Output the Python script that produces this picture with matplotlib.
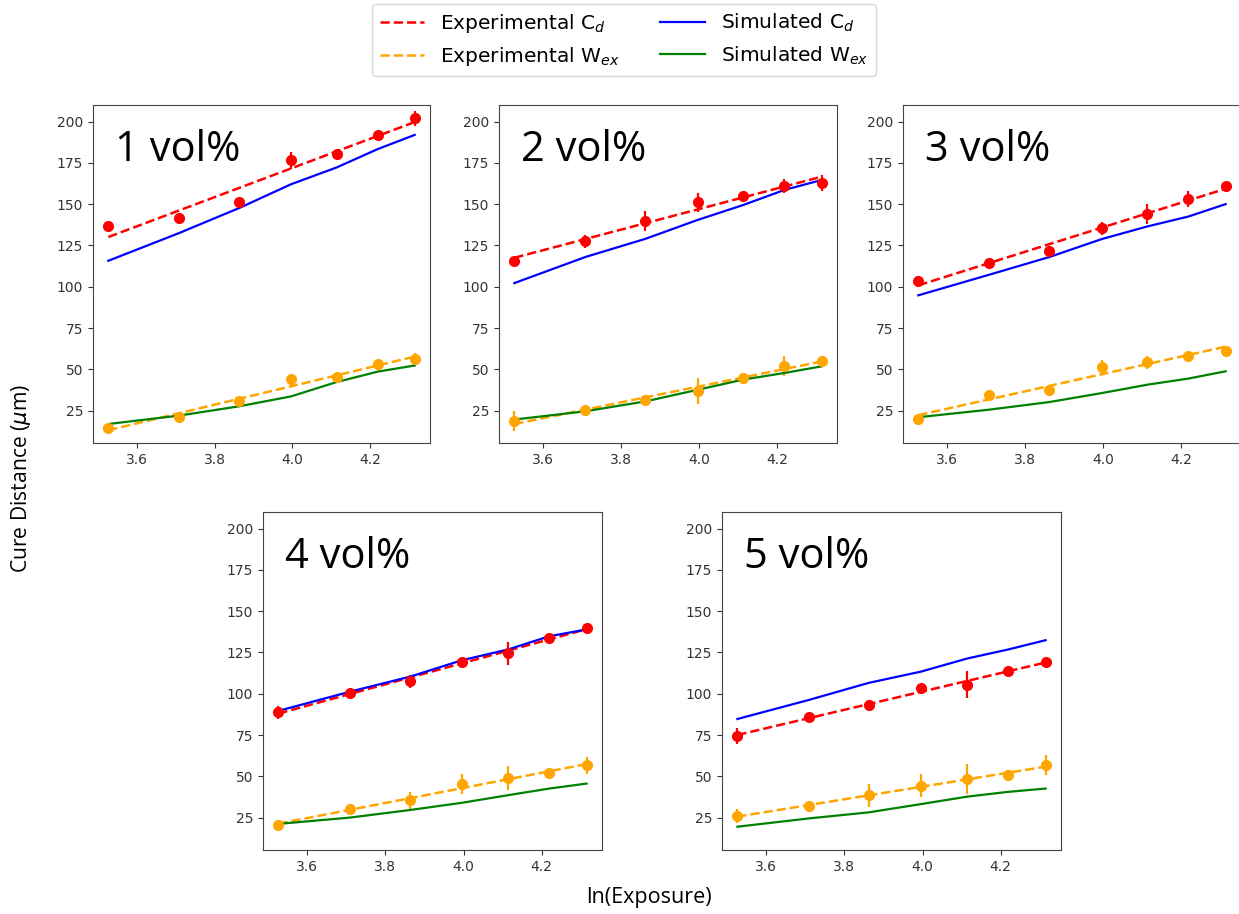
import numpy as np
import matplotlib
matplotlib.use("Agg")
import matplotlib.pyplot as plt

# Exposure levels (the x-axis shows their natural log)
exposure = [34.0, 40.8, 47.6, 54.4, 61.2, 68.0, 74.8]

panel_titles = ["1 vol%", "2 vol%", "3 vol%", "4 vol%", "5 vol%"]

# Experimental cure depth C_d (um) and its error bars
exp_cd = [
    [137.0, 141.5, 151.0, 176.5, 180.5, 192.0, 202.0],
    [115.8, 127.4, 139.9, 151.0, 155.2, 161.0, 162.7],
    [103.5, 114.5, 121.4, 135.3, 143.8, 153.0, 161.2],
    [88.8, 100.5, 107.6, 119.0, 124.4, 133.8, 140.0],
    [74.3, 86.1, 93.4, 103.2, 105.5, 113.6, 119.3],
]
exp_cd_err = [
    [2.0, 2.0, 2.0, 5.0, 2.0, 2.0, 4.5],
    [2.0, 4.0, 6.0, 6.0, 2.0, 4.0, 5.0],
    [3.0, 2.0, 3.0, 4.0, 6.0, 5.0, 2.0],
    [4.0, 2.0, 4.0, 3.0, 7.0, 3.0, 2.0],
    [5.0, 2.0, 3.0, 2.0, 8.0, 2.0, 2.0],
]

# Experimental excess width W_ex (um) and its error bars
exp_wex = [
    [14.3, 21.0, 30.6, 44.0, 45.3, 53.3, 56.3],
    [18.8, 25.3, 31.5, 37.0, 45.0, 52.2, 55.2],
    [19.8, 34.5, 37.2, 51.4, 54.3, 58.3, 61.2],
    [20.4, 30.5, 35.5, 45.3, 49.0, 52.1, 56.6],
    [26.0, 32.0, 38.5, 44.2, 48.3, 50.8, 56.8],
]
exp_wex_err = [
    [2.0, 3.0, 2.0, 2.0, 2.5, 2.5, 3.5],
    [6.0, 2.0, 2.0, 8.0, 2.0, 6.0, 2.0],
    [2.0, 3.0, 2.0, 4.0, 4.0, 2.0, 3.0],
    [3.0, 2.0, 5.0, 6.0, 7.0, 2.0, 5.0],
    [4.0, 2.0, 7.0, 7.0, 9.0, 2.0, 6.0],
]

# Simulated curves
sim_cd = [
    [115.7, 132.5, 147.6, 162.0, 172.2, 183.3, 191.9],
    [102.2, 118.0, 129.0, 140.4, 149.5, 158.6, 164.6],
    [94.8, 107.3, 118.0, 128.8, 136.5, 142.5, 150.0],
    [89.6, 101.2, 110.3, 120.3, 126.8, 134.8, 138.9],
    [84.7, 96.2, 106.6, 113.4, 121.3, 126.8, 132.4],
]
sim_wex = [
    [16.9, 22.0, 27.6, 33.6, 42.3, 48.6, 52.3],
    [19.6, 24.6, 30.6, 37.6, 43.8, 47.8, 51.8],
    [21.0, 25.6, 30.2, 35.6, 40.7, 44.4, 48.8],
    [21.2, 25.0, 29.6, 34.0, 38.6, 42.6, 45.6],
    [19.5, 24.5, 28.2, 33.2, 37.7, 40.6, 42.6],
]

W, H = 1239, 914
fig = plt.figure(figsize=(W / 100, H / 100), dpi=100)

# axes boxes in pixels: left, right, top, bottom
boxes = [
    (93, 430, 105, 443),
    (499, 837, 105, 443),
    (903, 1241, 105, 443),
    (263, 602, 512, 850),
    (722, 1061, 512, 850),
]

x = np.log(exposure)
handles = None
for i, (l, r, t, b) in enumerate(boxes):
    ax = fig.add_axes([l / W, 1 - b / H, (r - l) / W, (b - t) / H])

    cd = np.array(exp_cd[i])
    wx = np.array(exp_wex[i])
    cd_fit = np.polyval(np.polyfit(x, cd, 1), x)
    wx_fit = np.polyval(np.polyfit(x, wx, 1), x)

    h1, = ax.plot(x, cd_fit, "--", color="red", lw=1.8, label="Experimental C$_d$")
    ax.errorbar(x, cd, yerr=exp_cd_err[i], fmt="o", color="red", ms=7, elinewidth=1.6)
    h2, = ax.plot(x, wx_fit, "--", color="orange", lw=1.8, label="Experimental W$_{ex}$")
    ax.errorbar(x, wx, yerr=exp_wex_err[i], fmt="o", color="orange", ms=7, elinewidth=1.6)
    h3, = ax.plot(x, sim_cd[i], "-", color="blue", lw=1.6, label="Simulated C$_d$")
    h4, = ax.plot(x, sim_wex[i], "-", color="green", lw=1.6, label="Simulated W$_{ex}$")
    handles = [h1, h2, h3, h4]

    ax.set_ylim(5.4, 210)
    ax.set_yticks([25, 50, 75, 100, 125, 150, 175, 200])
    ax.set_xticks([3.6, 3.8, 4.0, 4.2])
    ax.tick_params(labelsize=10, colors="#333333")
    for s in ax.spines.values():
        s.set_color("#444444")
    ax.text(0.065, 0.835, panel_titles[i], transform=ax.transAxes,
            fontsize=30, family="Open Sans", ha="left", va="baseline")

fig.legend(handles=handles, loc="upper center", bbox_to_anchor=(624 / W, 1 + 6 / H),
           ncol=2, fontsize=14.5, frameon=True, handlelength=2.2, columnspacing=2.0)

fig.text(21 / W, 1 - 478 / H, r"Cure Distance ($\mu$m)", rotation=90,
         ha="center", va="center", fontsize=15.2, family="Open Sans")
fig.text(649 / W, 1 - 898 / H, "ln(Exposure)", ha="center", va="center",
         fontsize=15.5, family="Open Sans")

fig.savefig("out.png", dpi=100)
